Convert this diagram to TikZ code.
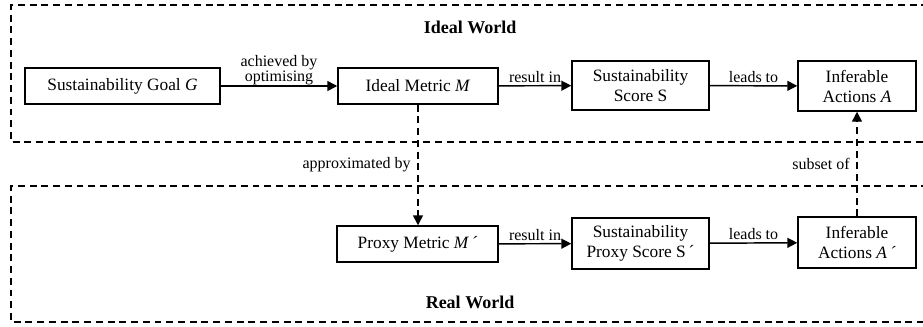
\documentclass[tikz,border=0pt]{standalone}
\usepackage{fontspec}
\setmainfont{Liberation Serif}
\usetikzlibrary{arrows.meta}
\begin{document}
\begin{tikzpicture}[x=0.75pt,y=-0.75pt,
  box/.style={draw, line width=1.1pt, inner sep=0pt, align=center, font=\fontsize{13}{15}\selectfont},
  lbl/.style={font=\fontsize{12}{11}\selectfont, inner sep=2pt, align=center},
  arr/.style={-{Triangle[length=7.5pt,width=7.5pt]}, line width=1.1pt},
  dsh/.style={dash pattern=on 5.2pt off 3.6pt, line width=1.1pt},
  ttl/.style={font=\bfseries\fontsize{13.5}{16}\selectfont, inner sep=0pt}]
\useasboundingbox (0,0) rectangle (923,326);
% world frames
\draw[dsh] (940,5) -- (11,5) -- (11,142) -- (940,142);
\draw[dsh] (940,186) -- (11,186) -- (11,322) -- (940,322);
\node[ttl] (ideal) at (470,27) {Ideal World};
\node[ttl] (real) at (470,302) {Real World};
% ideal row
\node[box, minimum width=146.25pt, minimum height=27pt] (G) at (122.5,86) {Sustainability Goal \textit{G}};
\node[box, minimum width=120pt, minimum height=27pt] (M) at (418,86) {Ideal Metric \textit{M}};
\node[box, minimum width=102.75pt, minimum height=36.75pt] (S) at (640.5,85.5) {Sustainability\\Score S};
\node[box, minimum width=88.5pt, minimum height=37.5pt] (A) at (857,86) {Inferable\\Actions \textit{A}};
% real row
\node[box, minimum width=120.75pt, minimum height=27pt] (Mp) at (417.5,244) {Proxy Metric \textit{M\,´}};
\node[box, minimum width=102.75pt, minimum height=38.25pt] (Sp) at (640.5,243.5) {Sustainability\\Proxy Score S\,´};
\node[box, minimum width=88.5pt, minimum height=38.25pt] (Ap) at (857,242.5) {Inferable\\Actions \textit{A\,´}};
% connectors
\draw[arr] (G) -- node[lbl, above, inner sep=0.5pt] {achieved by\\optimising} (M);
\draw[arr] (M) -- node[lbl, above] {result in} (S);
\draw[arr] (S) -- node[lbl, above] {leads to} (A);
\draw[arr] (Mp) -- node[lbl, above] {result in} (Sp);
\draw[arr] (Sp) -- node[lbl, above] {leads to} (Ap);
\draw[arr, dsh] (M.south) -- node[lbl, left, inner sep=5pt] {approximated by} (M.south |- Mp.north);
\draw[arr, dsh] (Ap.north) -- node[lbl, left, inner sep=5pt] {subset of} (Ap.north |- A.south);
\end{tikzpicture}
\end{document}
